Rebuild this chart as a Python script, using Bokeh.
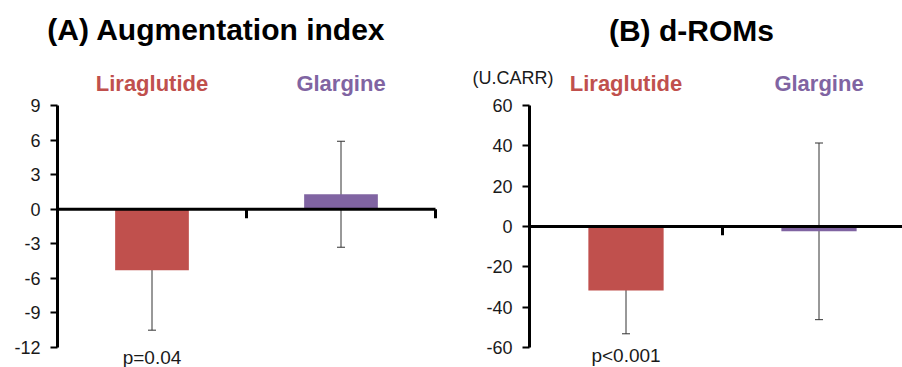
from bokeh.plotting import figure
from bokeh.models import Range1d, FixedTicker, Whisker, TeeHead, Label, ColumnDataSource
from bokeh.layouts import row
from bokeh.embed import file_html
from bokeh.resources import INLINE
from bokeh.core.properties import value

# ---------------- data ----------------
categories = ["Liraglutide", "Glargine"]
cat_colors = ["#C0504D", "#8064A2"]

aix_title = "(A) Augmentation index"
aix_means = [-5.3, 1.3]
aix_errs = [5.2, 4.6]
aix_ticks = [-12, -9, -6, -3, 0, 3, 6, 9]
aix_pvals = ["p=0.04", ""]

droms_title = "(B) d-ROMs"
droms_unit = "(U.CARR)"
droms_means = [-31.7, -2.4]
droms_errs = [21.5, 43.8]
droms_ticks = [-60, -40, -20, 0, 20, 40, 60]
droms_pvals = ["p<0.001", ""]

FONT = "Liberation Sans"


def make_panel(title, means, errs, ticks, pvals, width, x_range, y_range,
               title_x, title_y, cat_y, p_y, tick_len, unit=None, unit_pos=None):
    p = figure(width=width, height=367, output_backend="svg", toolbar_location=None,
               x_range=Range1d(*x_range), y_range=Range1d(*y_range),
               x_axis_location=None, title=None,
               min_border_left=0, min_border_right=0, min_border_top=0, min_border_bottom=0)
    p.outline_line_color = None
    p.xgrid.visible = False
    p.ygrid.visible = False
    p.background_fill_color = "white"
    p.border_fill_color = "white"

    n = len(categories)
    xs = [i + 0.5 for i in range(n)]
    src = ColumnDataSource(dict(
        x=xs, top=means, color=cat_colors, cat=categories,
        upper=[m + e for m, e in zip(means, errs)],
        lower=[m - e for m, e in zip(means, errs)],
    ))

    # bars
    p.vbar(x="x", top="top", bottom=0, width=0.39, fill_color="color",
           line_color=None, source=src)

    # category axis line at zero with boundary ticks
    p.segment(x0=[0], x1=[n], y0=[0], y1=[0], line_color="black", line_width=3)
    bounds = [i + 1 for i in range(n)]
    p.segment(x0=bounds, x1=bounds, y0=[0] * n, y1=[-tick_len] * n,
              line_color="black", line_width=3)

    # error bars
    head_u = TeeHead(size=8, line_color="#333333", line_width=1)
    head_l = TeeHead(size=8, line_color="#333333", line_width=1)
    p.add_layout(Whisker(source=src, base="x", upper="upper", lower="lower",
                         line_color="#333333", line_width=1,
                         upper_head=head_u, lower_head=head_l))

    # category labels
    p.text(x="x", y=cat_y, text="cat", text_color="color", source=src,
           text_font=value(FONT), text_font_size="22px", text_font_style="bold",
           text_align="center", text_baseline="alphabetic")

    # p-values
    for xv, pv in zip(xs, pvals):
        if pv:
            p.add_layout(Label(x=xv, y=p_y, text=pv, text_font=FONT,
                               text_font_size="19px", text_color="#1a1a1a",
                               text_align="center", text_baseline="alphabetic"))

    # title
    p.add_layout(Label(x=title_x, y=title_y, text=title, text_font=FONT,
                       text_font_size="30px", text_font_style="bold",
                       text_color="black", text_align="center",
                       text_baseline="alphabetic"))
    if unit:
        p.add_layout(Label(x=unit_pos[0], y=unit_pos[1], text=unit, text_font=FONT,
                           text_font_size="18px", text_color="#1a1a1a",
                           text_align="center", text_baseline="alphabetic"))

    ax = p.yaxis[0]
    ax.fixed_location = 0
    ax.ticker = FixedTicker(ticks=ticks)
    ax.major_label_overrides = {t: str(t) for t in ticks}
    ax.bounds = (min(ticks), max(ticks))
    ax.axis_line_width = 3
    ax.axis_line_color = "black"
    ax.major_tick_line_width = 2
    ax.major_tick_line_color = "black"
    ax.major_tick_out = 7
    ax.major_tick_in = 0
    ax.minor_tick_line_color = None
    ax.major_label_standoff = 10
    ax.major_label_text_font = FONT
    ax.major_label_text_font_size = "18px"
    ax.major_label_text_color = "#1a1a1a"
    return p


pA = make_panel(aix_title, aix_means, aix_errs, aix_ticks, aix_pvals,
                width=450, x_range=(-57 / 189, 393 / 189), y_range=(-13.74, 18.12),
                title_x=0.841, title_y=15.56, cat_y=10.95, p_y=-12.87,
                tick_len=0.78)

pB = make_panel(droms_title, droms_means, droms_errs, droms_ticks, droms_pvals,
                width=452, x_range=(-79 / 193, 373 / 193), y_range=(-69.92, 112.07),
                title_x=0.839, title_y=97.44, cat_y=70.8, p_y=-63.97,
                tick_len=4.4, unit=droms_unit, unit_pos=(-0.085, 73.4))

layout = row(pA, pB)
open("out.html", "w").write(file_html(layout, INLINE))
